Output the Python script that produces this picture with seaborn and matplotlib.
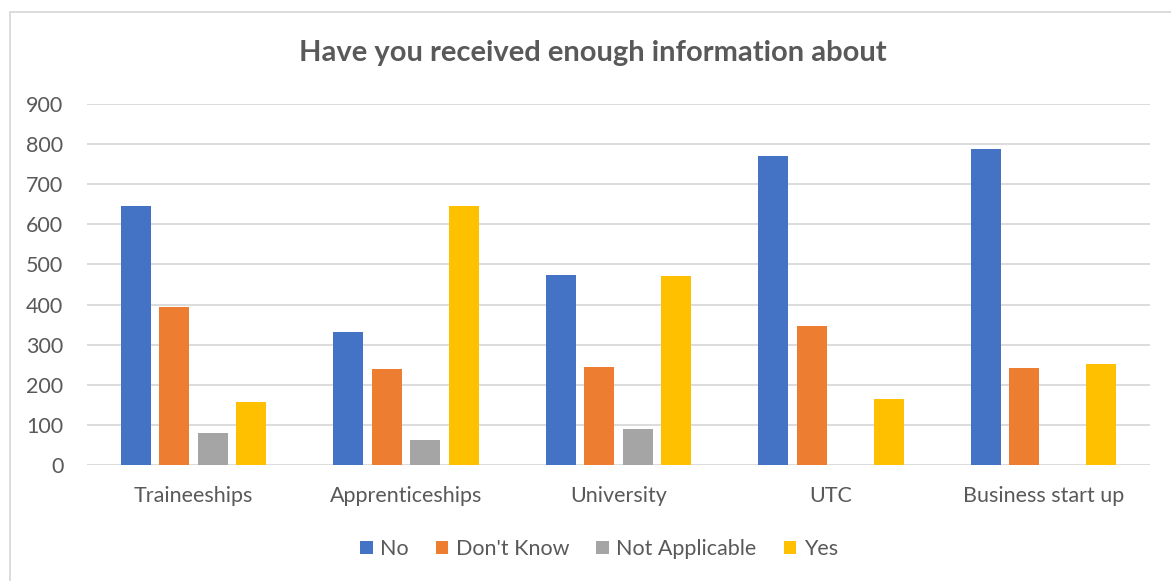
import matplotlib
matplotlib.use("Agg")
import matplotlib.pyplot as plt
from matplotlib.patches import Rectangle
import seaborn as sns
import pandas as pd

categories = ["Traineeships", "Apprenticeships", "University", "UTC", "Business start up"]
responses = ["No", "Don't Know", "Not Applicable", "Yes"]
no_vals = [646, 331, 474, 770, 788]
dont_know_vals = [395, 239, 245, 346, 243]
not_applicable_vals = [81, 63, 90, 0, 0]
yes_vals = [156, 645, 472, 164, 252]
colors = ["#4472C4", "#ED7D31", "#A5A5A5", "#FFC000"]
y_ticks = [0, 100, 200, 300, 400, 500, 600, 700, 800, 900]

rows = []
for resp, vals in zip(responses, [no_vals, dont_know_vals, not_applicable_vals, yes_vals]):
    for cat, v in zip(categories, vals):
        rows.append({"category": cat, "response": resp, "count": v})
df = pd.DataFrame(rows)

sns.set_theme(style="white")
plt.rcParams["font.family"] = ["Lato", "DejaVu Sans"]
text_color = "#595959"
grid_color = "#D9D9D9"

W, H = 1171, 581
fig = plt.figure(figsize=(W / 100, H / 100), dpi=100)
ax = fig.add_axes([87 / W, 1 - 465 / H, (1150 - 87) / W, (465 - 104) / H])

sns.barplot(data=df, x="category", y="count", hue="response", order=categories,
            hue_order=responses, palette=colors, width=0.724, gap=0.22,
            saturation=1, linewidth=0, ax=ax, legend=True)

ax.set_ylim(0, 900)
ax.set_xlim(-0.5, len(categories) - 0.5)
ax.set_yticks(y_ticks)
ax.set_yticklabels([str(t) for t in y_ticks])
ax.yaxis.grid(True, color=grid_color, linewidth=1.3)
ax.set_axisbelow(True)
for s in ax.spines.values():
    s.set_visible(False)
ax.set_xlabel("")
ax.set_ylabel("")
ax.tick_params(axis="both", length=0, labelsize=15.5, colors=text_color)
ax.tick_params(axis="x", pad=15)
ax.tick_params(axis="y", pad=17)

handles, labels = ax.get_legend_handles_labels()
ax.legend(handles, labels, loc="center", bbox_to_anchor=(599 / W, 1 - 549 / H),
          bbox_transform=fig.transFigure, ncol=4, frameon=False,
          fontsize=15.5, handlelength=0.58, handleheight=0.58, handletextpad=0.35,
          columnspacing=1.25, labelcolor=text_color)

fig.text(593 / W, 1 - 53 / H, "Have you received enough information about",
         ha="center", va="center", fontsize=21, fontweight="bold", color=text_color)

fig.patches.append(Rectangle((10 / W, -0.01), 1.05, 1 - 12 / H + 0.01,
                             transform=fig.transFigure, fill=False,
                             edgecolor=grid_color, linewidth=1.3))

fig.savefig("out.png", dpi=100)
